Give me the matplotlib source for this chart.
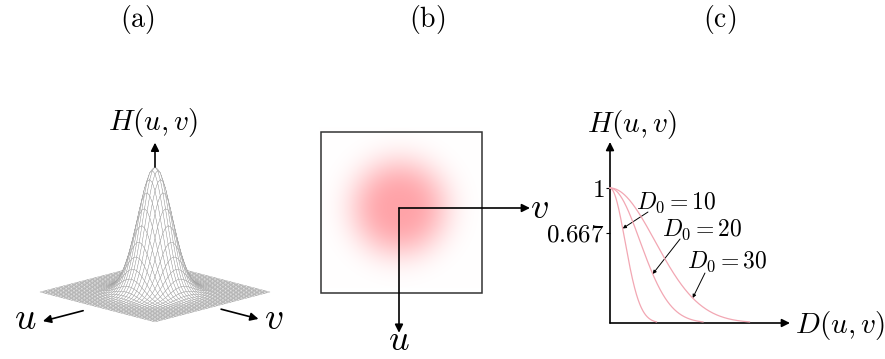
import numpy as np
import matplotlib
matplotlib.use('Agg')
import matplotlib.pyplot as plt
from matplotlib.collections import PolyCollection
from matplotlib.patches import Rectangle

plt.rcParams['mathtext.fontset'] = 'cm'
plt.rcParams['font.family'] = 'DejaVu Serif'

# Filtro gaussiano passa-baixa: H = exp(-D^2 / (2 D0^2))
panel_titles = ['(a)', '(b)', '(c)']
D0_values = [10, 20, 30]
D0_labels = [r'$D_0 = 10$', r'$D_0 = 20$', r'$D_0 = 30$']
H_ticks = [0.667, 1]
H_ticklabels = [r'$0.667$', r'$1$']
sigma_surf = 0.21      # largura do pico na superficie (a)
r_img = 0.6            # raio da mancha na imagem (b)
pink = np.array([1.0, 0.64, 0.66])
curve_color = '#f2a7b3'

W, Hpx = 885, 359
fig = plt.figure(figsize=(W / 100, Hpx / 100), dpi=100)


def eixos(x0, y0, x1, y1):
    # cria eixos a partir de coordenadas em pixels (y medido do topo)
    ax = fig.add_axes([x0 / W, 1 - y1 / Hpx, (x1 - x0) / W, (y1 - y0) / Hpx])
    ax.set_axis_off()
    return ax


def seta(ax, p0, p1, lw=1.2, ms=12):
    ax.annotate('', xy=p1, xytext=p0,
                arrowprops=dict(arrowstyle='-|>', color='k', lw=lw,
                                mutation_scale=ms, shrinkA=0, shrinkB=0))


for t, xp in zip(panel_titles, [137, 427, 720]):
    fig.text(xp / W, 1 - 20 / Hpx, r'$\mathrm{' + t + '}$', fontsize=20,
             ha='center', va='center')

######################################## (a) superficie 3D
s = 81.3                     # pixels por unidade
cx, cy = 155, 292            # centro do plano em pixels
axa = eixos(0, 100, 300, 350)
axa.set_xlim((0 - cx) / s, (300 - cx) / s)
axa.set_ylim((cy - 350) / s, (cy - 100) / s)

sin_e = 0.26
zs = 1.537
n = 45
g = np.linspace(-1, 1, n)
U, V = np.meshgrid(g, g, indexing='ij')
Z = np.exp(-(U ** 2 + V ** 2) / (2 * sigma_surf ** 2))


def proj(u, v, z):
    return (v - u) / np.sqrt(2), -(u + v) / np.sqrt(2) * sin_e + z * zs


PX, PY = proj(U, V, Z)
polys, depth = [], []
for i in range(n - 1):
    for j in range(n - 1):
        idx = [(i, j), (i + 1, j), (i + 1, j + 1), (i, j + 1)]
        polys.append([(PX[a, b], PY[a, b]) for a, b in idx])
        depth.append(U[i, j] + V[i, j])
order = np.argsort(depth)
pc = PolyCollection([polys[k] for k in order], facecolors='white',
                    edgecolors='#a0a0a0', linewidths=0.3)
axa.add_collection(pc)

seta(axa, (0, zs), (0, zs + 0.30))
axa.text(-0.02, 2.08, r'$H(u,v)$', fontsize=21, ha='center', va='center')
seta(axa, proj(1.25, 0, 0), proj(1.95, 0, 0))
seta(axa, proj(0, 1.15, 0), proj(0, 1.8, 0))
axa.text(-1.6, -0.33, r'$u$', fontsize=27, ha='center', va='center')
axa.text(1.46, -0.33, r'$v$', fontsize=27, ha='center', va='center')

######################################## (b) imagem do filtro
sb = 80.5
ox, oy = 399, 208
axb = eixos(300, 100, 560, 359)

gi = np.linspace(-1, 1, 300)
X, Y = np.meshgrid(gi, gi)
G = np.exp(-(np.hypot(X, Y) / r_img) ** 3)
img = 1 - (1 - pink)[None, None, :] * G[:, :, None]
axb.imshow(img, extent=[-1, 1, -1, 1], origin='lower', interpolation='bilinear')
axb.add_patch(Rectangle((-0.97, -1.05), 2, 2, fill=False, ec='#333333', lw=1.1))
axb.set_xlim((300 - ox) / sb, (560 - ox) / sb)
axb.set_ylim((oy - 359) / sb, (oy - 100) / sb)
axb.set_aspect('auto')

seta(axb, (0, 0), (1.627, 0))
seta(axb, (0, 0), (0, -1.55))
axb.text(1.74, 0.0, r'$v$', fontsize=26, ha='center', va='center')
axb.text(0.0, -1.64, r'$u$', fontsize=26, ha='center', va='center')

######################################## (c) perfis radiais
kx, ky = 1.5, 135.0          # pixels por unidade de D e de H
ox, oy = 610, 323
axc = fig.add_axes([555 / W, 1 - 345 / Hpx, 330 / W, 245 / Hpx])
axc.set_xlim((555 - ox) / kx, (885 - ox) / kx)
axc.set_ylim((oy - 345) / ky, (oy - 100) / ky)
for sp in axc.spines.values():
    sp.set_visible(False)
axc.spines['left'].set_position(('data', 0))
axc.set_xticks([])
axc.set_yticks(H_ticks)
axc.set_yticklabels(H_ticklabels, fontsize=18)
axc.tick_params(axis='y', length=3, width=0.8, pad=1)
axc.patch.set_alpha(0)

seta(axc, (0, 0), (0, (oy - 142) / ky))
seta(axc, (0, 0), ((790 - ox) / kx, 0))

for d0 in D0_values:
    D = np.linspace(0, 3.1 * d0, 200)
    axc.plot(D, np.exp(-D ** 2 / (2 * d0 ** 2)), color=curve_color, lw=0.9, zorder=5)

# rotulos dos D0 e setas ate as curvas
label_xy = [(44, 0.889), (61.3, 0.689), (78, 0.452)]
line_start = [(25.3, 0.822), (46.7, 0.622), (63.3, 0.370)]
target_H = [0.70, 0.363, 0.185]
for d0, lab, pxy, p0, h in zip(D0_values, D0_labels, label_xy, line_start, target_H):
    axc.text(pxy[0], pxy[1], lab, fontsize=17, ha='center', va='center')
    dt = d0 * np.sqrt(-2 * np.log(h))
    seta(axc, p0, (dt, h), lw=0.7, ms=5)

axc.text(14.7, 1.474, r'$H(u,v)$', fontsize=21, ha='center', va='center')
axc.text((795 - ox) / kx, -0.015, r'$D(u,v)$', fontsize=21, ha='left', va='center')

fig.savefig('out.png', dpi=100)
